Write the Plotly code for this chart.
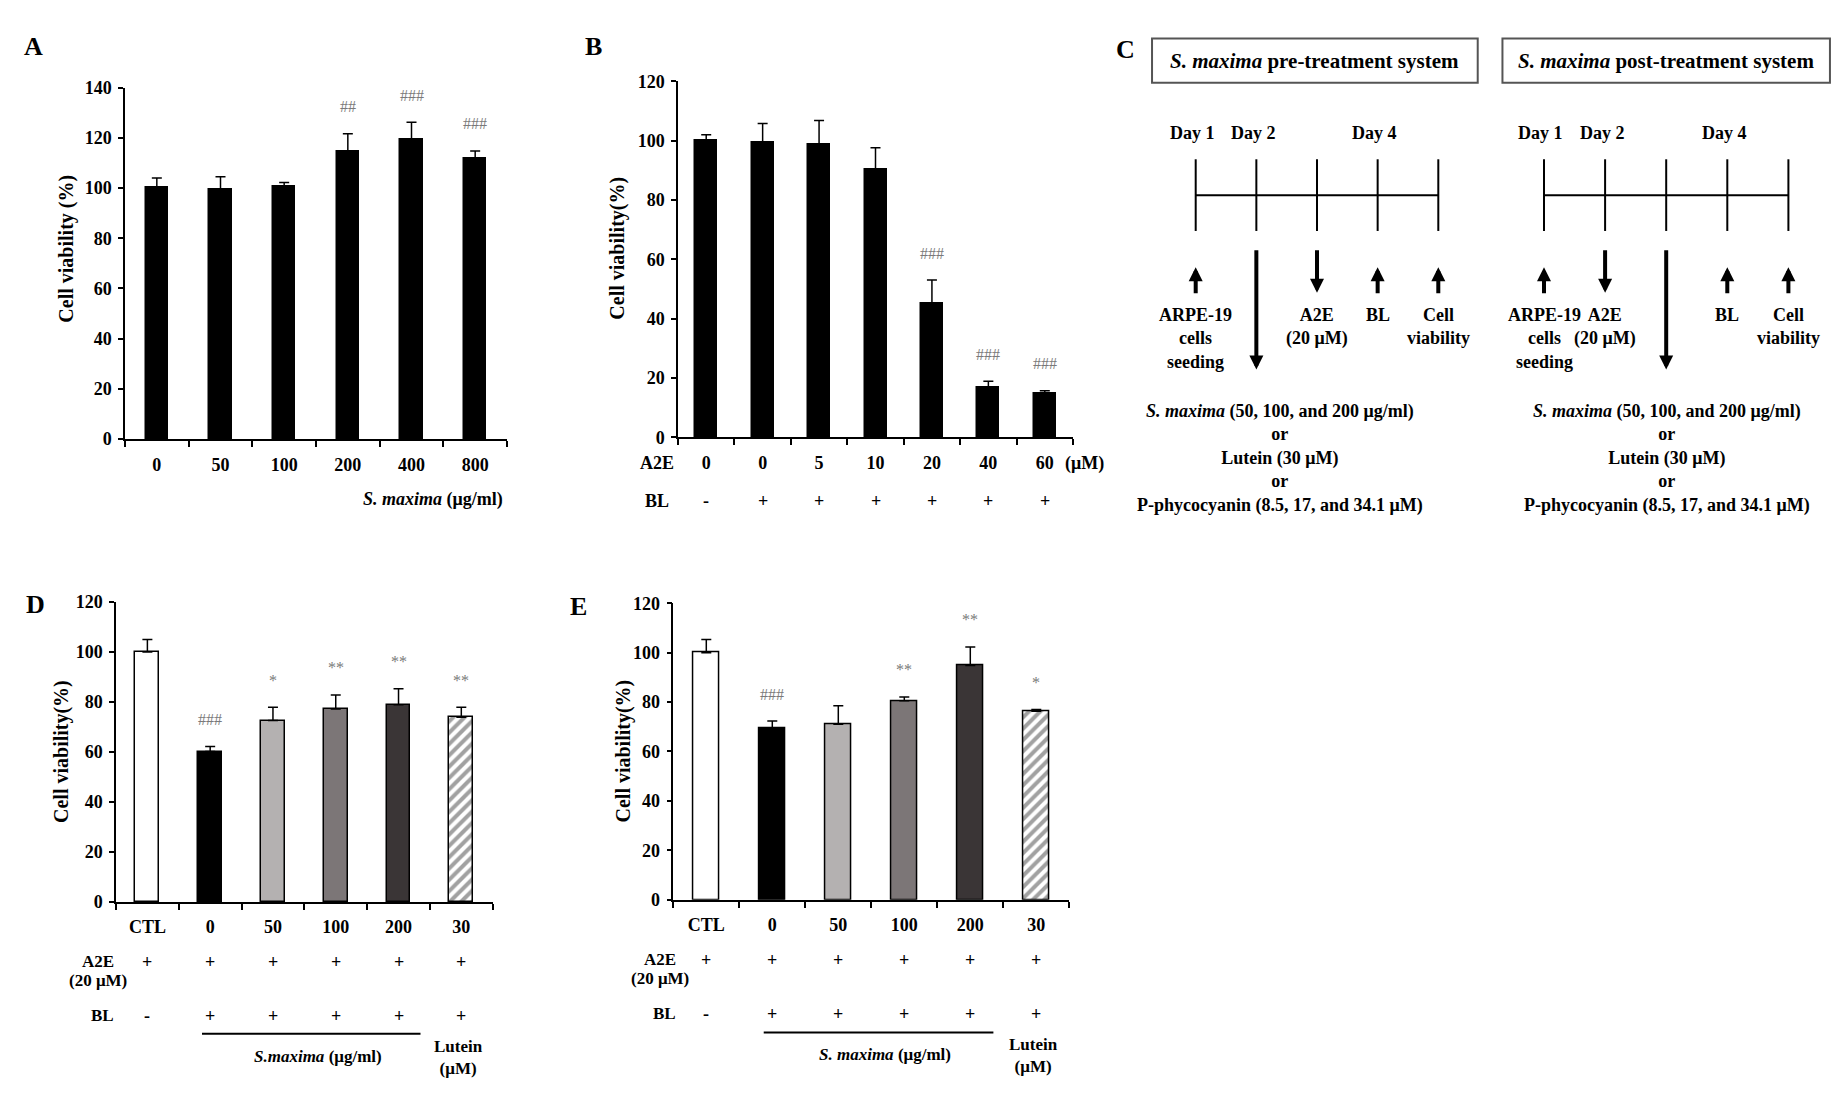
import plotly.graph_objects as go

W, H = 1847, 1118
FONT = "Liberation Serif"
SIG_COLOR = "#7a7a7a"

# A: S. maxima alone
a_doses = ["0", "50", "100", "200", "400", "800"]
a_mean = [100, 99.5, 100.7, 114.6, 119.2, 111.8]
a_err = [4, 5, 1.5, 7, 7, 3]
a_sig = ["", "", "", "##", "###", "###"]

# B: A2E dose + blue light
b_a2e = ["0", "0", "5", "10", "20", "40", "60"]
b_bl = ["-", "+", "+", "+", "+", "+", "+"]
b_mean = [100, 99.3, 98.8, 90.2, 45.3, 16.9, 14.7]
b_err = [2, 6.5, 8, 7.4, 7.7, 2, 1]
b_sig = ["", "", "", "", "###", "###", "###"]

# D / E: pre- and post-treatment
de_groups = ["CTL", "0", "50", "100", "200", "30"]
de_a2e = ["+", "+", "+", "+", "+", "+"]
de_bl = ["-", "+", "+", "+", "+", "+"]
d_mean = [100, 60.2, 72.6, 77.2, 78.9, 73.9]
d_err = [5, 2, 5.3, 5.6, 6.4, 4]
d_sig = ["", "###", "*", "**", "**", "**"]
e_mean = [100, 69.3, 71, 80.5, 94.8, 76.3]
e_err = [5.3, 3, 7.5, 1.6, 7.5, 0.7]
e_sig = ["", "###", "", "**", "**", "*"]
de_colors = ["white", "black", "#b4b1b1", "#7c7677", "#3a3536", "white"]
de_patterns = ["", "", "", "", "", "/"]

# C: treatment schedules
c_days = ["Day 1", "Day 2", "Day 4"]
c_day_steps = [0, 1, 3]
pre_arrows = ["up", "long", "down", "up", "up"]
post_arrows = ["up", "down", "long", "up", "up"]
pre_events = ["ARPE-19<br>cells<br>seeding", "", "A2E<br>(20 μM)", "BL", "Cell<br>viability"]
post_events = ["ARPE-19<br>cells<br>seeding", "A2E<br>(20 μM)", "", "BL", "Cell<br>viability"]
c_treat = ("<i>S. maxima</i> (50, 100, and 200 μg/ml)<br>or<br>Lutein (30 μM)<br>or<br>"
           "P-phycocyanin (8.5, 17, and 34.1 μM)")


def px(x):
    return x / W


def py(y):
    return 1 - y / H


def txt(text, x, y, xref="paper", yref="paper", size=17, color="black", **kw):
    a = dict(text=text, x=x, y=y, xref=xref, yref=yref, showarrow=False,
             xanchor="center", yanchor="middle",
             font=dict(family=FONT, size=size, color=color))
    a.update(kw)
    return a


fig = go.Figure()
ann = []
shp = []


def bar_panel(n, cats, mean, err, sig, colors, patterns, width, xdom, ydom, ymax):
    k = "" if n == 1 else str(n)
    xs = list(range(len(cats)))
    fig.add_trace(go.Bar(
        x=xs, y=mean, width=width, xaxis="x" + k, yaxis="y" + k, showlegend=False,
        marker=dict(color=colors, line=dict(color="black", width=1.5),
                    pattern=dict(shape=patterns, fgcolor="black", size=8, solidity=0.5)),
        error_y=dict(type="data", array=err, arrayminus=[0] * len(err), symmetric=False,
                     color="black", thickness=1.5, width=5),
    ))
    fig.update_layout(**{
        "xaxis" + k: dict(
            domain=[px(xdom[0]), px(xdom[1])], anchor="y" + k,
            range=[-0.5, len(cats) - 0.5], tickvals=xs, ticktext=cats, ticks="",
            showline=True, linecolor="black", linewidth=1.5, showgrid=False, zeroline=False,
            tickfont=dict(family=FONT, size=18, color="black", weight="bold"),
            ticklabelstandoff=8,
            minor=dict(tickvals=[i - 0.5 for i in range(len(cats) + 1)], ticks="outside",
                       ticklen=6, tickwidth=1.5, tickcolor="black"),
        ),
        "yaxis" + k: dict(
            domain=[py(ydom[0]), py(ydom[1])], anchor="x" + k, range=[0, ymax], dtick=20,
            ticks="outside", ticklen=5, tickwidth=1.5, tickcolor="black",
            showline=True, linecolor="black", linewidth=1.5, showgrid=False, zeroline=False,
            tickfont=dict(family=FONT, size=18, color="black", weight="bold"),
            ticklabelstandoff=3,
        ),
    })
    for i, s in enumerate(sig):
        if s:
            ann.append(txt(s, i, mean[i] + err[i], xref="x" + k, yref="y" + k,
                           size=16, color=SIG_COLOR, yshift=27))
    return "x" + k


# ---- panel A
bar_panel(1, a_doses, a_mean, a_err, a_sig, ["black"] * 6, [""] * 6, 0.35,
          (125, 507), (437, 79), 140)
ann.append(txt("<b>A</b>", px(33), py(37), size=26))
ann.append(txt("<b>Cell viability (%)</b>", px(67), py(243), size=20, textangle=-90))
ann.append(txt("<b><i>S. maxima</i> (μg/ml)</b>", px(505), py(498), size=18, xanchor="right"))

# ---- panel B
xb = bar_panel(2, b_a2e, b_mean, b_err, b_sig, ["black"] * 7, [""] * 7, 0.39,
               (678, 1073), (435, 72.7), 120)
ann.append(txt("<b>B</b>", px(593), py(37), size=26))
ann.append(txt("<b>Cell viability(%)</b>", px(618), py(243), size=20, textangle=-90))
ann.append(txt("<b>A2E</b>", px(657), py(461.7), size=18))
ann.append(txt("<b>BL</b>", px(657), py(500), size=18))
ann.append(txt("<b>(μM)</b>", px(1063), py(461.7), size=18, xanchor="left"))
for i, s in enumerate(b_bl):
    ann.append(txt("<b>%s</b>" % s, i, py(500), xref=xb, size=18))

# ---- panels D and E
for n, mean, err, sig, xdom, ydom, letter, lx, ly, yt_x, head_x, line_y, smx_label in [
    (3, d_mean, d_err, d_sig, (116, 492.7), (908.3, 602.7), "D", 35, 605, 62, 98, 1042.5,
     "<b><i>S.maxima</i> (μg/ml)</b>"),
    (4, e_mean, e_err, e_sig, (673.3, 1069.3), (906, 604), "E", 578, 607, 623, 660, 1041,
     "<b><i>S. maxima</i> (μg/ml)</b>"),
]:
    xr = bar_panel(n, de_groups, mean, err, sig, de_colors, de_patterns, 0.38, xdom, ydom, 120)
    top = ydom[0]
    ann.append(txt("<b>%s</b>" % letter, px(lx), py(ly), size=26))
    ann.append(txt("<b>Cell viability(%)</b>", px(yt_x), py((ydom[0] + ydom[1]) / 2),
                   size=20, textangle=-90))
    ann.append(txt("<b>A2E</b>", px(head_x), py(top + 61)))
    ann.append(txt("<b>(20 μM)</b>", px(head_x), py(top + 80)))
    ann.append(txt("<b>BL</b>", px(head_x + 4), py(top + 116)))
    for i in range(len(de_groups)):
        ann.append(txt("<b>%s</b>" % de_a2e[i], i, py(top + 61), xref=xr, size=18))
        ann.append(txt("<b>%s</b>" % de_bl[i], i, py(top + 116), xref=xr, size=18))
    shp.append(dict(type="line", xref=xr, yref="paper", x0=0.87, x1=4.35,
                    y0=py(line_y), y1=py(line_y), line=dict(color="black", width=2)))
    ann.append(txt(smx_label, 2.71, py(line_y + 23), xref=xr))
    ann.append(txt("<b>Lutein<br>(μM)</b>", 4.95, py(line_y + 1), xref=xr, yanchor="top"))

# ---- panel C: schedules
ann.append(txt("<b>C</b>", px(1125), py(40), size=26))
sides = [
    ("5", (1100, 1490), 1195.7, 60.65, (-0.72, 4.65),
     "<b><i>S. maxima</i> pre-treatment system</b>", pre_arrows, pre_events, 1.39),
    ("6", (1490, 1847), 1544.0, 61.1, (-0.68, 4.68),
     "<b><i>S. maxima</i> post-treatment system</b>", post_arrows, post_events, 2.02),
]
for k, dom, s0, sp, box, title, arrows, events, treat_x in sides:
    xr, yr = "x" + k, "y" + k
    fig.update_layout(**{
        "xaxis" + k: dict(domain=[px(dom[0]), px(dom[1])], anchor=yr,
                          range=[(dom[0] - s0) / sp, (dom[1] - s0) / sp], visible=False),
        "yaxis" + k: dict(domain=[py(560), 1], anchor=xr, range=[560, 0], visible=False),
    })
    steps = list(range(len(arrows)))
    vx, vy = [], []
    for s in steps:
        vx += [s, s, None]
        vy += [152, 225, None]
    fig.add_trace(go.Scatter(x=vx, y=vy, mode="lines", xaxis=xr, yaxis=yr, showlegend=False,
                             line=dict(color="black", width=2), hoverinfo="skip"))
    fig.add_trace(go.Scatter(x=[steps[0], steps[-1]], y=[188.5, 188.5], mode="lines",
                             xaxis=xr, yaxis=yr, showlegend=False,
                             line=dict(color="black", width=2), hoverinfo="skip"))
    shp.append(dict(type="rect", xref=xr, yref=yr, x0=box[0], x1=box[1], y0=29, y1=74,
                    line=dict(color="#555555", width=2)))
    ann.append(txt(title, (box[0] + box[1]) / 2, 51.5, xref=xr, yref=yr, size=21))
    for d, s in zip(c_days, c_day_steps):
        ann.append(txt("<b>%s</b>" % d, s - 0.05, 125, xref=xr, yref=yr, size=18))
    for s, a in enumerate(arrows):
        if a == "up":
            head, tail = 262, 290
        elif a == "down":
            head, tail = 288, 243
        else:
            head, tail = 366, 243
        ann.append(dict(text="", x=s, y=head, ax=s, ay=tail, xref=xr, yref=yr,
                        axref=xr, ayref=yr, showarrow=True, arrowhead=2, arrowsize=0.7,
                        arrowwidth=4, arrowcolor="black", standoff=0))
    for s, e in enumerate(events):
        if e:
            ann.append(txt("<b>%s</b>" % e, s, 298, xref=xr, yref=yr, yanchor="top", size=18))
    ann.append(txt("<b>%s</b>" % c_treat, treat_x, 396, xref=xr, yref=yr, yanchor="top",
                   size=18))

fig.update_layout(
    width=W, height=H, margin=dict(l=0, r=0, t=0, b=0),
    paper_bgcolor="white", plot_bgcolor="white",
    font=dict(family=FONT, color="black"),
    annotations=ann, shapes=shp, bargap=0,
)
fig.write_html("out.html", config={"displayModeBar": False},
               post_script="document.body.style.margin='0px';")
